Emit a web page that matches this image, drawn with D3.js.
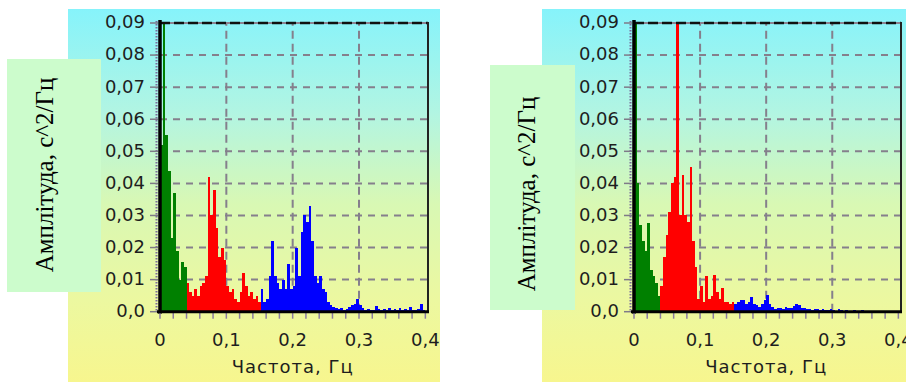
<!DOCTYPE html>
<html>
<head>
<meta charset="utf-8">
<script src="https://cdn.jsdelivr.net/npm/d3@7"></script>
<style>
  html, body { margin: 0; padding: 0; background: #ffffff; }
  svg { display: block; }
</style>
</head>
<body>
<svg id="chart" width="906" height="382"></svg>
<script>
// Spectral power density, one value per 0.004 Hz bin.
const binWidth = 0.004;
const bandStart = [0, 0.04, 0.152];          // VLF, LF, HF first bin
const bandColors = ["#008000", "#ff0000", "#0000ff"];

// First recording
const vlfLeft = [0.052, 0.1, 0.055, 0.044, 0.023, 0.037, 0.019, 0.010, 0.0156, 0.014];
const lfLeft = [0.009, 0.006, 0.005, 0.007, 0.005, 0.008, 0.009, 0.011, 0.042, 0.030,
                0.038, 0.026, 0.017, 0.020, 0.016, 0.008, 0.006, 0.007, 0.004, 0.003,
                0.006, 0.012, 0.008, 0.005, 0.006, 0.004, 0.005, 0.003];
const hfLeft = [0.007, 0.003, 0.004, 0.011, 0.022, 0.011, 0.009, 0.007, 0.010, 0.007,
                0.015, 0.007, 0.008, 0.020, 0.011, 0.025, 0.030, 0.028, 0.033, 0.022,
                0.011, 0.009, 0.011, 0.007, 0.006, 0.003, 0.002, 0.0015, 0.001, 0.0008,
                0.001, 0.0006, 0.0008, 0.0015, 0.002, 0.0025, 0.004, 0.002, 0.001, 0.0005,
                0.0008, 0.0006, 0.0005, 0.0018, 0.0007, 0.0005, 0.0008, 0.0006, 0.0012, 0.0005,
                0.0007, 0.0004, 0.0012, 0.0006, 0.0008, 0.0005, 0.0014, 0.0006, 0.0005, 0.0007,
                0.0025, 0.0006];

// Second recording
const vlfRight = [0.1, 0.040, 0.027, 0.022, 0.019, 0.0275, 0.013, 0.011, 0.009, 0.005];
const lfRight = [0.008, 0.017, 0.024, 0.031, 0.040, 0.042, 0.09, 0.030, 0.0426, 0.030,
                 0.028, 0.045, 0.022, 0.014, 0.004, 0.008, 0.003, 0.011, 0.004, 0.005,
                 0.0114, 0.006, 0.004, 0.0073, 0.003, 0.003, 0.0025, 0.003];
const hfRight = [0.0025, 0.003, 0.0035, 0.0037, 0.0025, 0.003, 0.0047, 0.0025, 0.002, 0.0015,
                 0.0025, 0.0036, 0.0052, 0.0025, 0.0015, 0.0008, 0.0010, 0.0012, 0.0008, 0.0015,
                 0.0013, 0.0010, 0.0018, 0.0025, 0.0022, 0.0013, 0.0010, 0.0008, 0.0007, 0.0005,
                 0.0007, 0.0008, 0.0006, 0.0008, 0.0004, 0.0005, 0.0008, 0.0006, 0.0003, 0.0008,
                 0.0005, 0.0003, 0.0004, 0.0003, 0.0002, 0.0005, 0.0002, 0.0003, 0.0004, 0.0002,
                 0.0003, 0.0002, 0.0002, 0.0003, 0.0002, 0.0002, 0.0003, 0.0002, 0.0002, 0.0002,
                 0.0002, 0.0002];

// Axis ticks and texts
const yTicks = [0, 0.01, 0.02, 0.03, 0.04, 0.05, 0.06, 0.07, 0.08, 0.09];
const yTickLabels = ["0,0", "0,01", "0,02", "0,03", "0,04", "0,05", "0,06", "0,07", "0,08", "0,09"];
const xTicks = [0, 0.1, 0.2, 0.3, 0.4];
const xTickLabels = ["0", "0,1", "0,2", "0,3", "0,4"];
const xMinorStep = 0.02;
const xTitle = "Частота, Гц";
const yTitle = "Амплітуда, с^2/Гц";

// Panel layout
const panels = [
  { id: "a", bg: [68, 9, 372, 373], box: [7, 59, 94, 233], xRange: [160, 428],
    titleY: { x: 53, y: 175 }, bands: [vlfLeft, lfLeft, hfLeft] },
  { id: "b", bg: [542, 9, 364, 373], box: [490, 65, 85, 245], xRange: [634, 901],
    titleY: { x: 535, y: 194 }, bands: [vlfRight, lfRight, hfRight] }
];

const svg = d3.select("#chart");
const defs = svg.append("defs");

const grad = defs.append("linearGradient")
  .attr("id", "bgGrad").attr("x1", 0).attr("y1", 0).attr("x2", 0).attr("y2", 1);
[[0, "#86f3fb"], [0.28, "#b2f5e2"], [0.52, "#d8f8b4"], [0.78, "#ecf8a0"], [1, "#f7f68e"]]
  .forEach(([o, c]) => grad.append("stop").attr("offset", o).attr("stop-color", c));

const y = d3.scaleLinear().domain([0, 0.09]).range([311.7, 23]);
const tickFont = "'DejaVu Sans', Verdana, sans-serif";

panels.forEach(p => {
  const x = d3.scaleLinear().domain([0, 0.404]).range(p.xRange);
  const g = svg.append("g");
  const x0 = x(0), xR = p.xRange[1], y0 = y(0), yTop = y(0.09);

  // background
  g.append("rect").attr("x", p.bg[0]).attr("y", p.bg[1])
    .attr("width", p.bg[2]).attr("height", p.bg[3]).attr("fill", "url(#bgGrad)");

  // dashed grid
  g.append("g").selectAll("line").data(yTicks.filter(t => t > 0 && t < 0.09)).join("line")
    .attr("x1", x0).attr("x2", xR).attr("y1", d => y(d)).attr("y2", d => y(d))
    .attr("stroke", "#857f8c").attr("stroke-width", 2).attr("stroke-dasharray", "7,6");
  g.append("g").selectAll("line").data(xTicks.filter(t => t > 0 && t < 0.4)).join("line")
    .attr("x1", d => x(d)).attr("x2", d => x(d)).attr("y1", y0).attr("y2", yTop)
    .attr("stroke", "#857f8c").attr("stroke-width", 2).attr("stroke-dasharray", "8,5");

  // spectrum bars
  const clipId = "clip-" + p.id;
  defs.append("clipPath").attr("id", clipId).append("rect")
    .attr("x", x0).attr("y", yTop).attr("width", xR - x0).attr("height", y0 - yTop);
  const bars = g.append("g").attr("clip-path", `url(#${clipId})`);
  p.bands.forEach((vals, b) => {
    const data = vals.map((v, i) => ({ f: bandStart[b] + i * binWidth, v }));
    bars.append("g").attr("fill", bandColors[b]).attr("shape-rendering", "crispEdges")
      .selectAll("rect").data(data).join("rect")
      .attr("x", d => x(d.f))
      .attr("width", d => x(d.f + binWidth) - x(d.f))
      .attr("y", d => y(d.v))
      .attr("height", d => y0 - y(d.v));
  });

  // frame: top dashed, right solid
  g.append("line").attr("x1", x0).attr("x2", xR).attr("y1", yTop).attr("y2", yTop)
    .attr("stroke", "#8a8290").attr("stroke-width", 2);
  g.append("line").attr("x1", x0).attr("x2", xR).attr("y1", yTop).attr("y2", yTop)
    .attr("stroke", "#111").attr("stroke-width", 2.5).attr("stroke-dasharray", "10,4");
  g.append("line").attr("x1", xR).attr("x2", xR).attr("y1", yTop - 1).attr("y2", y0)
    .attr("stroke", "#222").attr("stroke-width", 2);

  // y axis: dotted minor strip, major ticks, thick line
  g.append("line").attr("x1", x0 - 3.5).attr("x2", x0 - 3.5).attr("y1", yTop - 2).attr("y2", y0)
    .attr("stroke", "#7b6c9c").attr("stroke-width", 2).attr("stroke-dasharray", "1.5,1.5");
  g.append("g").selectAll("line").data(yTicks).join("line")
    .attr("x1", x0 - 10).attr("x2", x0 - 2).attr("y1", d => y(d)).attr("y2", d => y(d))
    .attr("stroke", "#7f7a88").attr("stroke-width", 1.5);
  g.append("line").attr("x1", x0).attr("x2", x0).attr("y1", yTop - 3).attr("y2", y0 + 2)
    .attr("stroke", "#000").attr("stroke-width", 3.5);

  // x axis: minor ticks and thick line
  g.append("g").selectAll("line").data(d3.range(0, 0.4 + 1e-9, xMinorStep)).join("line")
    .attr("x1", d => x(d)).attr("x2", d => x(d)).attr("y1", y0 + 1).attr("y2", y0 + 7)
    .attr("stroke", "#8a7ca2").attr("stroke-width", 1.5);
  g.append("line").attr("x1", x0 - 3).attr("x2", xR + 1).attr("y1", y0).attr("y2", y0)
    .attr("stroke", "#000").attr("stroke-width", 3);

  // tick labels
  g.append("g").selectAll("text").data(yTicks).join("text")
    .attr("x", x0 - 15).attr("y", d => y(d)).attr("dy", "0.3em")
    .attr("text-anchor", "end").attr("font-family", tickFont).attr("font-size", 18)
    .attr("fill", "#1e1e1e").text((d, i) => yTickLabels[i]);
  g.append("g").selectAll("text").data(xTicks).join("text")
    .attr("x", d => x(d)).attr("y", 345.5)
    .attr("text-anchor", "middle").attr("font-family", tickFont).attr("font-size", 18)
    .attr("fill", "#1e1e1e").text((d, i) => xTickLabels[i]);

  // x title
  g.append("text").attr("x", (x(0) + x(0.4)) / 2).attr("y", 372.5)
    .attr("text-anchor", "middle").attr("font-family", tickFont).attr("font-size", 18)
    .attr("letter-spacing", 1).attr("fill", "#1e1e1e").text(xTitle);

  // y title on a pale green plate
  g.append("rect").attr("x", p.box[0]).attr("y", p.box[1])
    .attr("width", p.box[2]).attr("height", p.box[3]).attr("fill", "#ccfccc");
  g.append("text")
    .attr("transform", `translate(${p.titleY.x},${p.titleY.y}) rotate(-90)`)
    .attr("text-anchor", "middle")
    .attr("font-family", "'Liberation Serif', 'Times New Roman', serif")
    .attr("font-size", 25).attr("fill", "#000")
    .text(yTitle);
});
</script>
</body>
</html>
